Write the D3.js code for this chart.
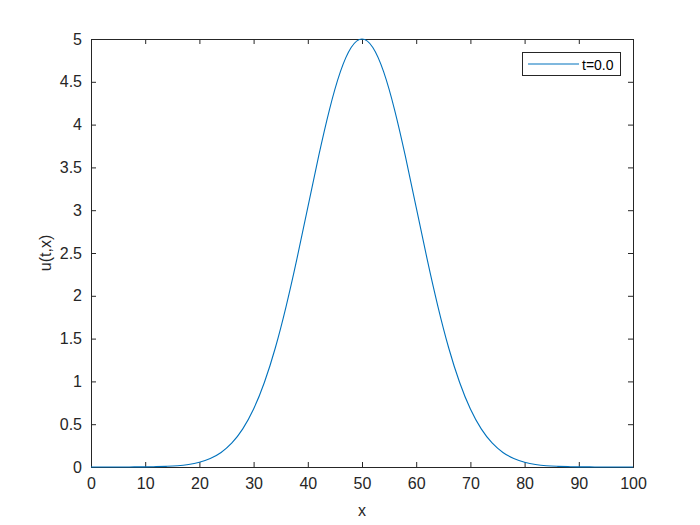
<!DOCTYPE html>
<html>
<head>
<meta charset="utf-8">
<script src="https://cdn.jsdelivr.net/npm/d3@7"></script>
<style>
  html, body { margin: 0; padding: 0; background: #ffffff; }
  svg { display: block; }
  text { font-family: "Liberation Sans", Arial, sans-serif; }
</style>
</head>
<body>
<svg id="chart" width="700" height="525"></svg>
<script>
// ---- data ----
const xValues = [0,2,4,6,8,10,12,14,16,18,20,22,24,26,28,30,32,34,36,38,40,42,44,46,48,
                 50,52,54,56,58,60,62,64,66,68,70,72,74,76,78,80,82,84,86,88,90,92,94,96,98,100];
const uValues = [0,0,0,0,0.001,0.002,0.004,0.008,0.015,0.030,0.056,0.099,0.170,0.281,0.445,0.677,
                 0.990,1.390,1.877,2.434,3.033,3.631,4.176,4.616,4.901,
                 5.000,
                 4.901,4.616,4.176,3.631,3.033,2.434,1.877,1.390,0.990,0.677,0.445,0.281,0.170,0.099,
                 0.056,0.030,0.015,0.008,0.004,0.002,0.001,0,0,0,0];
const xTicks = [0,10,20,30,40,50,60,70,80,90,100];
const yTicks = [0,0.5,1,1.5,2,2.5,3,3.5,4,4.5,5];
const seriesName = "t=0.0";
const xLabel = "x";
const yLabel = "u(t,x)";

// ---- layout ----
const padL = 91, padR = 633, padT = 39, padB = 467;
const axisColor = "#262626";
const lineColor = "#0072BD";

const svg = d3.select("#chart");
const x = d3.scaleLinear().domain([0, 100]).range([padL, padR]);
const y = d3.scaleLinear().domain([0, 5]).range([padB, padT]);

const fmt = d => String(d);

// axes box with inward ticks
const tickLen = 5;
const gx = svg.append("g").attr("transform", `translate(0,${padB})`)
  .call(d3.axisBottom(x).tickValues(xTicks).tickSize(-tickLen).tickPadding(11).tickFormat(fmt));
const gxTop = svg.append("g").attr("transform", `translate(0,${padT})`)
  .call(d3.axisTop(x).tickValues(xTicks).tickSize(-tickLen).tickFormat(""));
const gy = svg.append("g").attr("transform", `translate(${padL},0)`)
  .call(d3.axisLeft(y).tickValues(yTicks).tickSize(-tickLen).tickPadding(9).tickFormat(fmt));
const gyR = svg.append("g").attr("transform", `translate(${padR},0)`)
  .call(d3.axisRight(y).tickValues(yTicks).tickSize(-tickLen).tickFormat(""));

[gx, gxTop, gy, gyR].forEach(g => {
  g.select(".domain").attr("stroke", axisColor).attr("stroke-width", 1);
  g.selectAll(".tick line").attr("stroke", axisColor).attr("stroke-width", 1);
  g.selectAll(".tick text").attr("fill", axisColor)
    .style("font-family", "'Liberation Sans', Arial, sans-serif").style("font-size", "16px");
});

// curve
const line = d3.line().x((d, i) => x(xValues[i])).y(d => y(d)).curve(d3.curveNatural);
svg.append("path").datum(uValues)
  .attr("d", line).attr("fill", "none").attr("stroke", lineColor).attr("stroke-width", 1.1);

// labels
svg.append("text").attr("x", (padL + padR) / 2).attr("y", 516)
  .attr("text-anchor", "middle").attr("fill", axisColor).style("font-size", "16px").text(xLabel);
svg.append("text").attr("transform", `translate(51,${(padT + padB) / 2}) rotate(-90)`)
  .attr("text-anchor", "middle").attr("fill", axisColor).style("font-size", "16px").text(yLabel);

// legend
const lg = svg.append("g");
lg.append("rect").attr("x", 522.5).attr("y", 52.5).attr("width", 98).attr("height", 23)
  .attr("fill", "#ffffff").attr("stroke", axisColor).attr("stroke-width", 1);
lg.append("line").attr("x1", 528).attr("x2", 579).attr("y1", 64).attr("y2", 64)
  .attr("stroke", lineColor).attr("stroke-width", 1.1);
lg.append("text").attr("x", 582).attr("y", 69.5).attr("fill", "#000000")
  .style("font-size", "14px").text(seriesName);
</script>
</body>
</html>
